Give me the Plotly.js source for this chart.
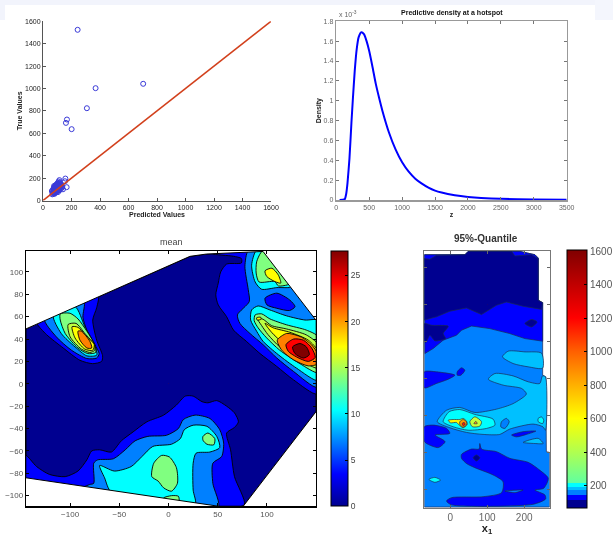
<!DOCTYPE html>
<html>
<head>
<meta charset="utf-8">
<script src="https://cdn.plot.ly/plotly-3.0.1.min.js"></script>
<style>
html,body{margin:0;padding:0;background:#fff;overflow:hidden}
#chart{width:613px;height:536px;filter:blur(0.4px)}
</style>
</head>
<body>
<div id="chart"></div>
<script>
// ---------- Predicted vs true ----------
const outlierPredicted=[243,703,369,308,168,161,201,157,166,154];
const outlierTrue=[1524,1042,1003,824,723,693,637,196,119,172];
const clusterPredicted=[62,65,68,70,72,72,75,75,78,78,80,80,82,82,85,85,85,88,88,90,90,90,92,92,95,95,95,98,98,100,100,100,102,102,105,105,105,108,108,110,110,110,112,112,115,115,115,118,118,120,120,122,125,128,130,135,140,78,85,95,105,115];
const clusterTrue=[85,55,70,90,60,100,75,110,65,95,120,80,60,105,70,90,130,85,115,75,100,140,90,125,80,105,135,95,120,85,110,150,100,130,90,120,160,105,140,95,125,170,110,150,100,135,182,120,160,110,145,130,120,140,110,125,100,130,95,115,75,90];
const identityLine=[0,1600];
// ---------- Predictive density ----------
const densityZ=[50,100,130,150,170,200,230,250,280,310,340,380,420,460,500,550,600,650,700,800,900,1000,1100,1200,1300,1400,1500,1600,1800,2000,2200,2500,3000,3500];
const densityThousandths=[0,0.002,0.01,0.06,0.17,0.42,0.78,1.0,1.3,1.52,1.64,1.69,1.67,1.6,1.5,1.34,1.17,1.03,0.9,0.68,0.51,0.38,0.285,0.215,0.165,0.125,0.095,0.075,0.048,0.031,0.02,0.012,0.005,0.002];
// ---------- Mean surface: contour outlines [x, y] ----------
const meanHull=[[-145,49],[21.7,113.9],[38.6,116],[96,118.3],[150,56.6],[150,-24.7],[75.9,-109.4],[50.5,-109.4],[-145,-84]];
const meanL2Bottom=[[-145,-64],[-134,-74],[-121,-81],[-105,-83],[-92,-78],[-83,-68],[-78,-60],[-70,-59],[-58,-61],[-48,-51],[-36,-43],[-22,-34],[-5,-28],[8,-19],[17,-11],[25,-11],[34,-16],[40,-17],[49,-15],[59,-20],[67,-26],[71,-34],[67,-39],[59,-44],[63,-59],[67,-83],[77,-108],[50.5,-111],[-145,-87]];
const meanL2Left=[[-133.6,53.6],[-124,44],[-107,32],[-90,21],[-77,18],[-68,20],[-67,25],[-73,39],[-77,57],[-73,68],[-71.5,79],[-133.6,56]];
const meanL2Right=[[45,116],[66,114],[74,112],[74,108],[59,107],[53,100],[50.5,90],[48,79.5],[50.5,70.5],[59,60],[66,48],[79,38],[93,27],[110,15.5],[127,3.5],[151,-9],[152,57],[96,120]];
const meanL3Bottom=[[-87,-93],[-80,-90],[-76,-89],[-76,-71],[-72,-68],[-56,-67],[-44,-59],[-34,-51],[-21,-47],[-2,-46],[10,-40],[15,-32],[27,-28],[42,-31],[52,-41],[56,-53],[54,-65],[45,-71],[45,-89],[50.5,-111]];
const meanL3Left=[[-126,58],[-114,42],[-98.6,30],[-83,22.6],[-73,23],[-70.5,27],[-75,35],[-83,48],[-87,59.5],[-86,73]];
const meanL3Right=[[81,119],[77.6,105],[81,84],[82,73.5],[70,61.6],[72.5,54],[82.7,45],[96,35],[110,23],[127,11],[151,-3],[152,57],[96,120]];
const meanIsland=[[98,76.5],[110,81],[123,75],[128.5,69],[123,65.5],[110,67.5],[100,70.5]];
const meanL4Bottom=[[-70,-73],[-55,-78],[-38,-74],[-27,-65],[-16,-56],[3,-54],[12,-49],[16,-41],[25,-37],[39,-38],[49,-47],[52,-57],[42,-61],[28,-62],[25,-71],[25,-95],[27,-108],[-58,-97],[-65,-84]];
const meanL4Left=[[-117,61],[-109,45],[-95,33],[-83,25],[-73,25.6],[-75,35],[-85,51],[-95,69]];
const meanL4TopRight=[[89,119],[84.4,106],[88,91],[94.6,84.5],[110,86],[124,86.3],[130,90],[97,120]];
const meanL4Right=[[84.4,66],[91,69.6],[103,66],[120,60.7],[138.6,57],[152,56.6],[152,3],[130,14],[111.5,26],[96,38],[89.5,47],[83.4,57]];
const meanL5Large=[[-7,-64],[1,-65.5],[8,-75],[9,-89],[3,-96],[-5,-93],[-10.5,-87],[-17,-83],[-15,-71]];
const meanL5Small=[[35,-47],[40,-44],[47,-49],[46,-54.5],[39,-54],[35,-50.5]];
const meanL5Edge=[[-5,-102],[3,-100],[10,-100.5],[10.5,-105],[-5,-104]];
const meanL5Left=[[-110,62.5],[-110,57],[-105,45],[-92,32],[-82,27],[-74,28],[-75,35],[-83,47],[-92,58],[-100,63]];
const meanL5TopRight=[[93.6,117],[89.5,109],[89,99],[92,91],[108,91.4],[111.5,87.5],[120.7,88.4],[124,90],[98,120]];
const meanL5Right=[[88,61.6],[94.6,62.5],[103,58],[120,52.7],[140,48],[152,42],[152,10],[133.5,18],[113,30],[99.7,41],[91,50],[87,56.5]];
const meanL6Left=[[-102,53],[-100,42],[-88.5,31],[-80,28],[-75,30],[-75.5,35],[-85,45],[-94,54]];
const meanL6Right=[[90,58.6],[96,57.7],[104.7,52],[120,49],[140,43.7],[152,35],[152,14],[133.5,21.4],[113,33],[101,44],[94.6,52]];
const meanL7Left=[[-98,51],[-95,41],[-85,31],[-77,30],[-75.5,35],[-85,44],[-92,50.5]];
const meanL7TopRight=[[98,101],[105,103.3],[111.5,97.3],[114,90],[108,91.4],[99.7,96]];
const meanL7Right=[[98,54],[106.4,50],[123.4,46],[142,39],[152,29],[152,18],[133.5,25],[116.6,36],[104.7,46]];
const meanL7Tip=[[89.5,59],[93.6,59.5],[94,57.7],[90,57]];
const meanL8Left=[[-92,47],[-90,39],[-83,32],[-78,32],[-80,38],[-88.5,47]];
const meanL8Right=[[110.5,39],[120,45],[135,41.7],[145.4,34.8],[152,26],[152,18],[142,16],[127,21.4],[115,30]];
const meanL9Right=[[119.3,35],[127,40],[137,39],[145.4,32],[149,23.5],[142,20],[130,24],[121.7,29]];
const meanL10Right=[[126,33],[133.5,36],[140,33],[143,26],[137,23],[128.5,27]];
const meanMaskTopLeft=[[-145,49],[21.7,113.9],[38.6,116],[96,118.3],[96,122],[-150,122],[-150,49]];
const meanMaskTopRight=[[96,118.3],[150,56.6],[153,56.6],[153,122],[96,122]];
const meanMaskBottomRight=[[150,-24.7],[75.9,-109.4],[75.9,-112],[153,-112],[153,-24.7]];
const meanMaskBottomLeft=[[-145,-84],[50.5,-109.4],[50.5,-112],[-150,-112],[-150,-84]];
const meanLevels=[0,3.45,6.9,10.35,13.8,15.5,17.25,20.7,24.15,27.6];
const meanRange=[0,27.6];
const meanTicks=[0,5,10,15,20,25];
// ---------- 95%-Quantile surface ----------
const quantHull=[[-70,635],[40,635],[49,644],[188,644],[229,635],[238,626],[238,512],[250,505],[250,309],[258.6,304.5],[260,102],[268.5,100],[268.5,-48],[-70,-48]];
const quantBlueTop=[[-68.5,367.6],[-46,381],[-19,403.6],[17,417],[30.6,430.6],[57.7,442],[107,435],[161,421.6],[202,408],[250,401],[250,505],[238,512],[238,626],[229,635],[188,644],[49,644],[40,635],[-70,635]];
const quantDarkTop=[[-70,458],[-37,467],[-1,482],[44,491],[84.7,473],[125,498],[152,507],[197,495.5],[247,487],[250,505],[238,512],[238,624],[220,635],[175,631.5],[166,644],[49,644],[40,635],[-37,633],[-55,622.5],[-70,624.5]];
const quantDarkIsland=[[202,448.6],[220,459.5],[235,453],[220,439.6]];
const quantDarkLeft=[[-70,448.6],[-50,444],[-5.4,441.4],[-19,421.6],[-12.6,408],[-41.4,402],[-55,417],[-66,397],[-70,403.6]];
const quantBlueLeft=[[-70,318],[-37,318],[12.6,309],[-5.4,298],[-37,286.5],[-70,274.6]];
const quantBlueSpot=[[19,318],[30.6,329],[39.6,322.5],[29,309],[19,309]];
const quantBlueLower=[[-70,169.4],[-46,173.8],[-10,165],[-1,151.4],[-41,147],[-14,129],[-32.4,113],[-64,124],[-70,130]];
const quantBlueLarge=[[30.6,94.6],[57.7,109],[78.4,109],[80,124],[84.7,109],[125,102],[161,84],[211,73],[242,52],[265,30],[253,3],[229,-2],[256,-15],[258,-26],[224,-40.5],[3.6,-42],[-10,-31.5],[3.6,-22.5],[89,-20],[139,-9],[143,20.7],[116,39],[66.7,58.6],[44,70],[30.6,84]];
const quantMidSliver=[[148,-4.5],[197,-2],[175,-9]];
const quantDarkSpot=[[62,85.6],[71,93],[80,85.6],[71,76.6]];
const quantLightMain=[[-35,183],[-10,214],[26,221.6],[66.7,208],[125,217],[170,232],[206,258],[193,273],[143,282],[103,298],[121,313.5],[170,307],[211,291],[242,286.5],[249.5,307],[257.6,304.5],[257.6,160],[251,169],[224,176.6],[161,163],[134,148.6],[89,148.6],[44,154],[-1,166.7]];
const quantLightTop=[[141.4,358.6],[157,374],[202,372],[247,368.5],[250,328],[211,331.5],[170,340.5]];
const quantLightLower=[[197,127],[238,138],[251.4,124],[229,124]];
const quantMidSpot=[[138.7,183],[152,192],[159.5,183],[148,165],[137,169]];
const quantBlueSliver=[[166,147],[197,156],[231.5,157.6],[206,148.6],[179,142]];
const quantCyanSpot=[[238,192],[247,196],[253,187],[250,178],[238,183]];
const quantCyanLow=[[-57.7,27],[-41.4,32.4],[-26,25],[-41.4,19]];
const quantCyanCore=[[-19,183],[-3,210],[26,216],[66.7,202.7],[116,190],[121,173.8],[98.2,164.8],[48.6,160],[8,169.4]];
const quantPeakRight=[[53,183],[66.7,196.4],[84.7,183],[80,171],[60,169.4]];
const quantPeakTip=[[64,178],[69.4,184],[73,178]];
const quantPeakLeft=[[-5.4,187],[8,189],[26,189],[35,192],[44,184.7],[46,175.7],[35,166.7],[24.3,174],[17,181],[0.9,180]];
const quantPeakInner=[[26,183],[35,189],[44,183],[44,174],[35,168.5],[26,175.5]];
const quantPeakCore=[[32.4,178.4],[38,181],[40.5,175.7],[35,172]];
const quantLevels={dark:90,blue:130,mid:160,light:185,cyan:205,lime:450,yellow:620,orange:850,red:1150};
const quantRange=[67,1605];
const quantTicks=[200,400,600,800,1000,1200,1400,1600];

// ---------- Colour maps ----------
const jetMap=[[0,'#000090'],[0.125,'#0000ff'],[0.375,'#00ffff'],[0.625,'#ffff00'],[0.875,'#ff0000'],[1,'#800000']];
const quantMapValues=[67,116,116,146,146,176,176,195,195,216,216,400,600,800,1000,1200,1605];
const quantMapColors=['#000090','#000090','#0000ff','#0000ff','#0080ff','#0080ff','#00c0ff','#00c0ff','#00ffff','#00ffff','#60ffa0','#b0ff50','#ffff00','#ffb000','#ff6000','#ff0000','#800000'];
const quantMap=quantMapValues.map((v,i)=>[(v-quantRange[0])/(quantRange[1]-quantRange[0]),quantMapColors[i]]);
function hex(c){return [1,3,5].map(i=>parseInt(c.substr(i,2),16));}
function lookup(map,t){
  for(let i=1;i<map.length;i++){
    if(t<=map[i][0]){
      const a=map[i-1],b=map[i],f=b[0]>a[0]?(t-a[0])/(b[0]-a[0]):1;
      const ca=hex(a[1]),cb=hex(b[1]);
      return 'rgb('+ca.map((v,k)=>Math.round(v+(cb[k]-v)*f)).join(',')+')';
    }
  }
  return map[map.length-1][1];
}
const meanColor=v=>lookup(jetMap,(v-meanRange[0])/(meanRange[1]-meanRange[0]));
const quantColor=v=>lookup(quantMap,(v-quantRange[0])/(quantRange[1]-quantRange[0]));

// ---------- Traces ----------
const traces=[];
function band(pts,color,xa,ya,width,smooth,edge){
  const closed=pts.concat([pts[0]]);
  traces.push({x:closed.map(p=>p[0]),y:closed.map(p=>p[1]),xaxis:xa,yaxis:ya,type:'scatter',mode:'lines',fill:'toself',fillcolor:color,
    line:{color:edge||'#000',width:width,shape:smooth?'spline':'linear',smoothing:0.7},hoverinfo:'skip',showlegend:false});
}
traces.push({x:clusterPredicted.concat(outlierPredicted),y:clusterTrue.concat(outlierTrue),type:'scatter',mode:'markers',xaxis:'x',yaxis:'y',
  marker:{symbol:'circle-open',size:5,color:'#3a3ad8',line:{width:1,color:'#3a3ad8'}},showlegend:false});
traces.push({x:identityLine,y:identityLine,type:'scatter',mode:'lines',xaxis:'x',yaxis:'y',line:{color:'#d2401c',width:1.6},showlegend:false});
traces.push({x:densityZ,y:densityThousandths,type:'scatter',mode:'lines',xaxis:'x2',yaxis:'y2',line:{color:'#0000ff',width:2,shape:'spline',smoothing:0.5},showlegend:false});

const M=(pts,lvl)=>band(pts,meanColor(meanLevels[lvl]),'x3','y3',0.9,true);
band(meanHull,meanColor(meanLevels[0]),'x3','y3',0.9,false);
[meanL2Bottom,meanL2Left,meanL2Right].forEach(p=>M(p,1));
[meanL3Bottom,meanL3Left,meanL3Right].forEach(p=>M(p,2));
M(meanIsland,1);
[meanL4Bottom,meanL4Left,meanL4TopRight,meanL4Right].forEach(p=>M(p,3));
[meanL5Large,meanL5Small,meanL5Edge,meanL5Left,meanL5TopRight,meanL5Right].forEach(p=>M(p,4));
[meanL6Left,meanL6Right].forEach(p=>M(p,5));
[meanL7Left,meanL7TopRight,meanL7Right,meanL7Tip].forEach(p=>M(p,6));
[meanL8Left,meanL8Right].forEach(p=>M(p,7));
M(meanL9Right,8);
M(meanL10Right,9);
[meanMaskTopLeft,meanMaskTopRight,meanMaskBottomRight,meanMaskBottomLeft].forEach(p=>{
  const c=p.concat([p[0]]);
  traces.push({x:c.map(q=>q[0]),y:c.map(q=>q[1]),xaxis:'x3',yaxis:'y3',type:'scatter',mode:'lines',fill:'toself',fillcolor:'#fff',line:{width:0},hoverinfo:'skip',showlegend:false});
});
traces.push({x:meanHull.concat([meanHull[0]]).map(p=>p[0]),y:meanHull.concat([meanHull[0]]).map(p=>p[1]),xaxis:'x3',yaxis:'y3',type:'scatter',mode:'lines',line:{color:'#000',width:1},hoverinfo:'skip',showlegend:false});

const edgeQ='#1a2a55';
const Q=(pts,name)=>band(pts,quantColor(quantLevels[name]),'x4','y4',0.7,true,edgeQ);
band(quantHull,quantColor(quantLevels.mid),'x4','y4',0.7,false,edgeQ);
band(quantBlueTop,quantColor(quantLevels.blue),'x4','y4',0.7,false,edgeQ);
band(quantDarkTop,quantColor(quantLevels.dark),'x4','y4',0.7,false,edgeQ);
Q(quantDarkIsland,'dark');Q(quantDarkLeft,'dark');
Q(quantBlueLeft,'blue');Q(quantBlueSpot,'blue');Q(quantBlueLower,'blue');Q(quantBlueLarge,'blue');
Q(quantMidSliver,'mid');Q(quantDarkSpot,'dark');
Q(quantLightMain,'light');Q(quantLightTop,'light');Q(quantLightLower,'light');
Q(quantMidSpot,'mid');Q(quantBlueSliver,'blue');Q(quantCyanSpot,'cyan');Q(quantCyanLow,'cyan');Q(quantCyanCore,'cyan');
Q(quantPeakRight,'lime');Q(quantPeakTip,'orange');Q(quantPeakLeft,'yellow');Q(quantPeakInner,'orange');Q(quantPeakCore,'red');

function colorbarTrace(xa,ya,range,map,ticks,x0,y0,len,thick,fontSize,fontColor){
  const [cx,cy]=ya==='y3'?[0,0]:[100,500];
  traces.push({x:[cx,cx],y:[cy,cy],xaxis:xa,yaxis:ya,type:'scatter',mode:'markers',hoverinfo:'skip',showlegend:false,
    marker:{size:0.5,color:range,cmin:range[0],cmax:range[1],colorscale:map,showscale:true,
      colorbar:{x:x0/613,xanchor:'left',y:1-y0/536,yanchor:'bottom',lenmode:'pixels',len:len,thicknessmode:'pixels',thickness:thick,
        xpad:0,ypad:0,outlinewidth:1,outlinecolor:'#000',ticks:'inside',ticklen:3,tickcolor:'#000',tickvals:ticks,tickfont:{family:'Liberation Sans, Arial',size:fontSize,color:fontColor}}}});
}
colorbarTrace('x3','y3',meanRange,jetMap,meanTicks,330.5,506.3,255.3,17,8.5,'#444');
colorbarTrace('x4','y4',quantRange,quantMap,quantTicks,567.3,508.3,258,20,10,'#555');

// ---------- Layout ----------
const W=613,H=536;
const dx=(a,b)=>[a/W,b/W];
const dy=(top,bottom)=>[1-bottom/H,1-top/H];
const font='Liberation Sans, Arial, sans-serif';
function axis(extra){
  return Object.assign({showgrid:false,zeroline:false,ticks:'inside',ticklen:3,automargin:false,showline:true,tickangle:0},extra);
}
const layout={
  width:W,height:H,autosize:false,margin:{l:0,r:0,t:0,b:0,pad:0,autoexpand:false},paper_bgcolor:'#fff',plot_bgcolor:'#fff',showlegend:false,hovermode:false,
  font:{family:font},
  xaxis:axis({domain:dx(43,271),range:[0,1600],tickvals:[0,200,400,600,800,1000,1200,1400,1600],linecolor:'#555',tickcolor:'#555',anchor:'y',tickfont:{size:7,color:'#222'},
    title:{text:'<b>Predicted Values</b>',font:{size:7,color:'#222'},standoff:2}}),
  yaxis:axis({domain:dy(21.3,200.5),range:[0,1600],tickvals:[0,200,400,600,800,1000,1200,1400,1600],linecolor:'#555',tickcolor:'#555',anchor:'x',tickfont:{size:7,color:'#222'},
    title:{text:'<b>True Values</b>',font:{size:7,color:'#222'},standoff:1}}),
  xaxis2:axis({domain:dx(336.3,566.7),range:[0,3500],tickvals:[0,500,1000,1500,2000,2500,3000,3500],mirror:'ticks',linecolor:'#999',linewidth:1.6,tickcolor:'#777',anchor:'y2',tickfont:{size:7,color:'#666'},
    title:{text:'<b>z</b>',font:{size:7,color:'#222'},standoff:2}}),
  yaxis2:axis({domain:dy(21.3,200),range:[0,1.8],tickvals:[0,0.2,0.4,0.6,0.8,1,1.2,1.4,1.6,1.8],mirror:'ticks',linecolor:'#999',linewidth:1.6,tickcolor:'#777',anchor:'x2',tickfont:{size:7,color:'#666'},
    title:{text:'<b>Density</b>',font:{size:7,color:'#222'},standoff:1}}),
  xaxis3:axis({domain:dx(26,316),range:[-144.8,149.8],tickvals:[-100,-50,0,50,100],mirror:'ticks',linecolor:'#000',linewidth:1.2,tickcolor:'#000',anchor:'y3',tickfont:{size:8,color:'#555'}}),
  yaxis3:axis({domain:dy(251,506.3),range:[-109.5,118.7],tickvals:[-100,-80,-60,-40,-20,0,20,40,60,80,100],mirror:'ticks',linecolor:'#000',linewidth:1.2,tickcolor:'#000',anchor:'x3',tickfont:{size:8,color:'#555'}}),
  xaxis4:axis({domain:dx(424.3,549.7),range:[-70,269],tickvals:[0,100,200],mirror:'ticks',linecolor:'#777',linewidth:1,tickcolor:'#666',anchor:'y4',tickfont:{size:10,color:'#666'},
    title:{text:'<b>x<sub>1</sub></b>',font:{size:11,color:'#222'},standoff:7}}),
  yaxis4:axis({domain:dy(251,508),range:[-50.5,645],tickvals:[0,100,200,300,400,500,600],mirror:'ticks',showticklabels:false,linecolor:'#777',linewidth:1,tickcolor:'#666',anchor:'x4'}),
  annotations:[
    {xref:'paper',yref:'paper',x:451.5/W,y:1-13/H,text:'<b>Predictive density at a hotspot</b>',showarrow:false,font:{size:7,color:'#111'},xanchor:'center',yanchor:'middle'},
    {xref:'paper',yref:'paper',x:337/W,y:1-14/H,text:'x 10<sup>-3</sup>',showarrow:false,font:{size:7,color:'#666'},xanchor:'left',yanchor:'middle'},
    {xref:'paper',yref:'paper',x:171/W,y:1-242/H,text:'mean',showarrow:false,font:{size:9,color:'#444'},xanchor:'center',yanchor:'middle'},
    {xref:'paper',yref:'paper',x:486/W,y:1-239/H,text:'<b>95%-Quantile</b>',showarrow:false,font:{size:10,color:'#333'},xanchor:'center',yanchor:'middle'}
  ],
  shapes:[
    {type:'rect',xref:'paper',yref:'paper',x0:0,x1:1,y0:1-5/H,y1:1,fillcolor:'#f2f4fc',line:{width:0},layer:'below'},
    {type:'rect',xref:'paper',yref:'paper',x0:0,x1:5/W,y0:1-20/H,y1:1,fillcolor:'#f2f4fc',line:{width:0},layer:'below'},
    {type:'rect',xref:'paper',yref:'paper',x0:595/W,x1:1,y0:1-20/H,y1:1,fillcolor:'#f4f6fd',line:{width:0},layer:'below'}
  ]
};
Plotly.newPlot('chart',traces,layout,{displayModeBar:false,staticPlot:true});
</script>
</body>
</html>
